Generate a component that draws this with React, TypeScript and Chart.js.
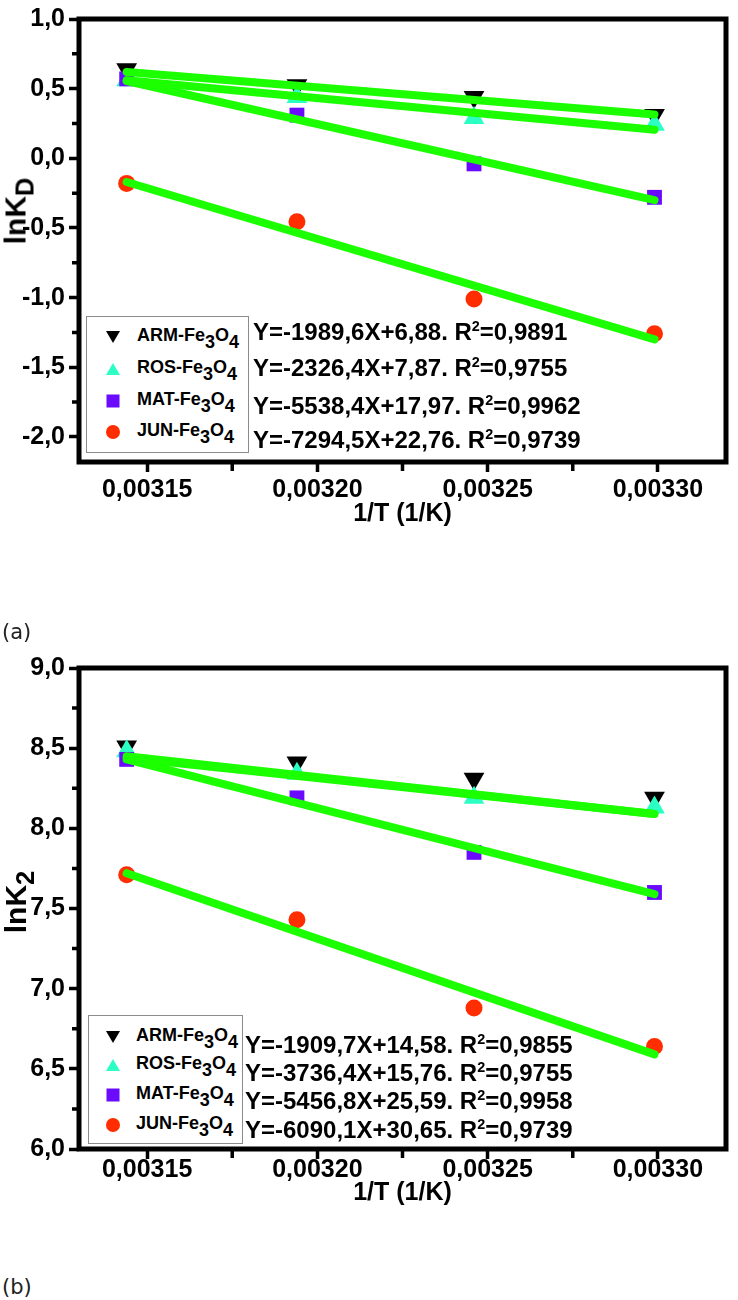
import React, { useEffect, useRef } from 'react';
import { Chart, registerables } from 'chart.js';

Chart.register(...registerables);

// ---------------- data ----------------
const invT = [0.003144, 0.003194, 0.003246, 0.003299]; // 1/T (1/K)
const xMajorTicks = [0.00315, 0.0032, 0.00325, 0.0033];
const xMinorTicks = [0.003175, 0.003225, 0.003275];
const seriesNames = ['ARM', 'ROS', 'MAT', 'JUN'];

// (a) lnK_D
const kdARM = [0.64, 0.525, 0.44, 0.31];
const kdROS = [0.56, 0.44, 0.29, 0.24];
const kdMAT = [0.57, 0.31, -0.04, -0.28];
const kdJUN = [-0.18, -0.455, -1.01, -1.26];
const kdFitARM = [0.62, 0.315];
const kdFitROS = [0.56, 0.205];
const kdFitMAT = [0.555, -0.3];
const kdFitJUN = [-0.17, -1.3];
const kdYMajor = [-2, -1.5, -1, -0.5, 0, 0.5, 1];
const kdYMinor = [-1.75, -1.25, -0.75, -0.25, 0.25, 0.75];
const kdEquations = ['Y=-1989,6X+6,88.', 'Y=-2326,4X+7,87.', 'Y=-5538,4X+17,97.', 'Y=-7294,5X+22,76.'];
const kdR2 = ['0,9891', '0,9755', '0,9962', '0,9739'];

// (b) lnK_2
const k2ARM = [8.51, 8.41, 8.31, 8.19];
const k2ROS = [8.48, 8.34, 8.19, 8.13];
const k2MAT = [8.43, 8.19, 7.85, 7.6];
const k2JUN = [7.71, 7.43, 6.88, 6.64];
const k2FitARM = [8.45, 8.09];
const k2FitROS = [8.44, 8.09];
const k2FitMAT = [8.43, 7.59];
const k2FitJUN = [7.72, 6.59];
const k2YMajor = [6, 6.5, 7, 7.5, 8, 8.5, 9];
const k2YMinor = [6.25, 6.75, 7.25, 7.75, 8.25, 8.75];
const k2Equations = ['Y=-1909,7X+14,58.', 'Y=-3736,4X+15,76.', 'Y=-5456,8X+25,59.', 'Y=-6090,1X+30,65.'];
const k2R2 = ['0,9855', '0,9755', '0,9958', '0,9739'];

// ---------------- styles ----------------
const FONT = "'Liberation Sans', Arial, Helvetica, sans-serif";
const NARROW = "'Liberation Sans Narrow', 'Arial Narrow', 'Liberation Sans', sans-serif";
const FIT_COLOR = '#1BFF00';
const MARKERS = [
  { style: 'triangle', rotation: 180, radius: 12, color: '#000000', kind: 'down', order: 4 },
  { style: 'triangle', rotation: 0, radius: 12, color: '#2CFFC4', kind: 'up', order: 3 },
  { style: 'rect', rotation: 0, radius: 10.5, color: '#6A0BFF', kind: 'square', order: 2 },
  { style: 'circle', rotation: 0, radius: 8.5, color: '#FF2D00', kind: 'circle', order: 1 },
];

const frameMinorPlugin = {
  id: 'frameMinor',
  afterDraw(chart: any, _args: any, opts: any) {
    const { ctx, chartArea: a, scales } = chart;
    ctx.save();
    ctx.strokeStyle = '#000';
    ctx.lineWidth = 3.5;
    ctx.beginPath();
    (opts.xMinor || []).forEach((v: number) => {
      const px = scales.x.getPixelForValue(v);
      ctx.moveTo(px, a.bottom);
      ctx.lineTo(px, a.bottom + 9);
    });
    (opts.yMinor || []).forEach((v: number) => {
      const py = scales.y.getPixelForValue(v);
      ctx.moveTo(a.left, py);
      ctx.lineTo(a.left - 7, py);
    });
    ctx.stroke();
    ctx.lineWidth = 5;
    ctx.lineJoin = 'miter';
    ctx.strokeRect(a.left, a.top, a.right - a.left, a.bottom - a.top);
    ctx.restore();
  },
};

type PanelProps = {
  top: number;
  height: number;
  areaTop: number;
  areaBottom: number;
  yMin: number;
  yMax: number;
  yMajor: number[];
  yMinor: number[];
  series: number[][];
  fits: number[][];
  xTickPad: number;
  xTitlePad: number;
};

function PanelChart(p: PanelProps) {
  const ref = useRef<HTMLCanvasElement | null>(null);
  useEffect(() => {
    if (!ref.current) return;
    const fitSets = p.fits.map((f) => ({
      type: 'line',
      data: [
        { x: invT[0], y: f[0] },
        { x: invT[invT.length - 1], y: f[1] },
      ],
      borderColor: FIT_COLOR,
      borderWidth: 8,
      borderCapStyle: 'round',
      pointRadius: 0,
      showLine: true,
      fill: false,
      tension: 0,
      order: 0,
    }));
    const pointSets = p.series.map((vals, i) => ({
      type: 'scatter',
      label: seriesNames[i],
      data: vals.map((y, j) => ({ x: invT[j], y })),
      pointStyle: MARKERS[i].style,
      pointRotation: MARKERS[i].rotation,
      pointRadius: MARKERS[i].radius,
      pointBackgroundColor: MARKERS[i].color,
      pointBorderColor: MARKERS[i].color,
      backgroundColor: MARKERS[i].color,
      borderColor: MARKERS[i].color,
      pointBorderWidth: 0,
      showLine: false,
      order: MARKERS[i].order,
    }));
    const chart = new Chart(ref.current, {
      type: 'scatter',
      data: { datasets: [...fitSets, ...pointSets] as any },
      options: {
        animation: false,
        responsive: false,
        devicePixelRatio: 1,
        layout: { padding: { top: p.areaTop, right: 5, left: 0, bottom: 0 } },
        plugins: {
          legend: { display: false },
          tooltip: { enabled: false },
          frameMinor: { xMinor: xMinorTicks, yMinor: p.yMinor },
        } as any,
        scales: {
          x: {
            type: 'linear',
            min: 0.00313,
            max: 0.00332,
            afterBuildTicks: (s: any) => {
              s.ticks = xMajorTicks.map((value) => ({ value }));
            },
            afterFit: (s: any) => {
              s.height = p.height - p.areaBottom;
            },
            border: { display: false },
            grid: {
              drawOnChartArea: false,
              drawTicks: true,
              tickLength: 10,
              tickWidth: 3.5,
              tickColor: '#000',
            },
            ticks: {
              autoSkip: false,
              maxRotation: 0,
              minRotation: 0,
              color: '#000',
              padding: p.xTickPad,
              font: { family: FONT, size: 25, weight: 'bold' },
              callback: (v: any) => Number(v).toFixed(5).replace('.', ','),
            },
            title: {
              display: true,
              text: '1/T (1/K)',
              color: '#000',
              font: { family: FONT, size: 25, weight: 'bold' },
              padding: { top: 0, bottom: p.xTitlePad },
            },
          },
          y: {
            type: 'linear',
            min: p.yMin,
            max: p.yMax,
            afterBuildTicks: (s: any) => {
              s.ticks = p.yMajor.map((value) => ({ value }));
            },
            afterFit: (s: any) => {
              s.width = 79;
            },
            border: { display: false },
            grid: {
              drawOnChartArea: false,
              drawTicks: true,
              tickLength: 10,
              tickWidth: 3.5,
              tickColor: '#000',
            },
            ticks: {
              autoSkip: false,
              color: '#000',
              padding: 4,
              font: { family: FONT, size: 25, weight: 'bold' },
              callback: (v: any) => Number(v).toFixed(1).replace('.', ','),
            },
          },
        } as any,
      },
      plugins: [frameMinorPlugin],
    } as any);
    return () => chart.destroy();
  }, []);
  return (
    <canvas
      ref={ref}
      width={738}
      height={p.height}
      style={{ position: 'absolute', left: 0, top: p.top, width: 738, height: p.height }}
    />
  );
}

function Marker({ kind, color }: { kind: string; color: string }) {
  return (
    <svg width={18} height={16} viewBox="0 0 18 16" style={{ display: 'block' }}>
      {kind === 'down' && <polygon points="2,2 16,2 9,14" fill={color} />}
      {kind === 'up' && <polygon points="2,14 16,14 9,2" fill={color} />}
      {kind === 'square' && <rect x={2.5} y={1.5} width={13} height={13} fill={color} />}
      {kind === 'circle' && <circle cx={9} cy={8} r={7} fill={color} />}
    </svg>
  );
}

const Sub = ({ children }: { children: any }) => (
  <span style={{ position: 'relative', top: '0.4em' }}>{children}</span>
);

type LegendProps = {
  box: { left: number; top: number; width: number; height: number };
  rowY: number[];
  markerX: number;
  textX: number;
  eqX: number;
  eqY: number[];
  equations: string[];
  r2: string[];
};

function LegendPanel(l: LegendProps) {
  return (
    <>
      <div
        style={{
          position: 'absolute',
          left: l.box.left,
          top: l.box.top,
          width: l.box.width,
          height: l.box.height,
          border: '1.5px solid #8c8c8c',
          background: '#fff',
          boxSizing: 'border-box',
        }}
      />
      {seriesNames.map((n, i) => (
        <React.Fragment key={n}>
          <div style={{ position: 'absolute', left: l.markerX - 9, top: l.rowY[i] + 2 - 8 }}>
            <Marker kind={MARKERS[i].kind} color={MARKERS[i].color} />
          </div>
          <div
            style={{
              position: 'absolute',
              left: l.textX,
              top: l.rowY[i] - 15,
              lineHeight: '30px',
              fontFamily: NARROW,
              fontStretch: 'condensed',
              fontSize: 18,
              fontWeight: 'bold',
              whiteSpace: 'nowrap',
              color: '#000',
            }}
          >
            {n}-Fe<Sub>3</Sub>O<Sub>4</Sub>
          </div>
        </React.Fragment>
      ))}
      {l.equations.map((e, i) => (
        <div
          key={e}
          style={{
            position: 'absolute',
            left: l.eqX,
            top: l.eqY[i] - 15,
            lineHeight: '30px',
            fontFamily: FONT,
            fontSize: 24,
            fontWeight: 'bold',
            whiteSpace: 'nowrap',
            color: '#000',
          }}
        >
          {e} R
          <span style={{ fontSize: '0.6em', position: 'relative', top: '-0.65em' }}>2</span>={l.r2[i]}
        </div>
      ))}
    </>
  );
}

function YTitle({ cx, cy, sub }: { cx: number; cy: number; sub: string }) {
  return (
    <div
      style={{
        position: 'absolute',
        left: cx,
        top: cy,
        transform: 'translate(-50%, -50%) rotate(-90deg)',
        whiteSpace: 'nowrap',
        fontFamily: FONT,
        fontSize: 30,
        fontWeight: 'bold',
        lineHeight: '34px',
        color: '#000',
      }}
    >
      lnK<span style={{ fontSize: '0.85em', position: 'relative', top: '0.3em' }}>{sub}</span>
    </div>
  );
}

function PanelLabel({ y, text }: { y: number; text: string }) {
  return (
    <div
      style={{
        position: 'absolute',
        left: 2,
        top: y - 13,
        lineHeight: '26px',
        fontFamily: "'DejaVu Sans', sans-serif",
        fontSize: 21,
        color: '#222',
      }}
    >
      {text}
    </div>
  );
}

export default function App() {
  return (
    <div style={{ position: 'absolute', left: 0, top: 0, width: 738, height: 1300, background: '#fff', overflow: 'hidden' }}>
      <PanelChart
        top={0}
        height={560}
        areaTop={13.5}
        areaBottom={462}
        yMin={-2.18}
        yMax={1}
        yMajor={kdYMajor}
        yMinor={kdYMinor}
        series={[kdARM, kdROS, kdMAT, kdJUN]}
        fits={[kdFitARM, kdFitROS, kdFitMAT, kdFitJUN]}
        xTickPad={3}
        xTitlePad={31}
      />
      <PanelChart
        top={600}
        height={640}
        areaTop={68}
        areaBottom={549}
        yMin={6}
        yMax={9}
        yMajor={k2YMajor}
        yMinor={k2YMinor}
        series={[k2ARM, k2ROS, k2MAT, k2JUN]}
        fits={[k2FitARM, k2FitROS, k2FitMAT, k2FitJUN]}
        xTickPad={-4}
        xTitlePad={32}
      />
      <LegendPanel
        box={{ left: 86, top: 316, width: 163, height: 137 }}
        rowY={[335, 367, 399, 430]}
        markerX={113}
        textX={137}
        eqX={253}
        eqY={[332, 368, 406, 440]}
        equations={kdEquations}
        r2={kdR2}
      />
      <LegendPanel
        box={{ left: 88, top: 1015, width: 155, height: 129 }}
        rowY={[1035, 1063, 1093, 1123]}
        markerX={113}
        textX={136}
        eqX={245}
        eqY={[1045, 1073, 1101, 1130]}
        equations={k2Equations}
        r2={k2R2}
      />
      <YTitle cx={16} cy={211} sub="D" />
      <YTitle cx={16} cy={902} sub="2" />
      <PanelLabel y={632} text="(a)" />
      <PanelLabel y={1287} text="(b)" />
    </div>
  );
}
